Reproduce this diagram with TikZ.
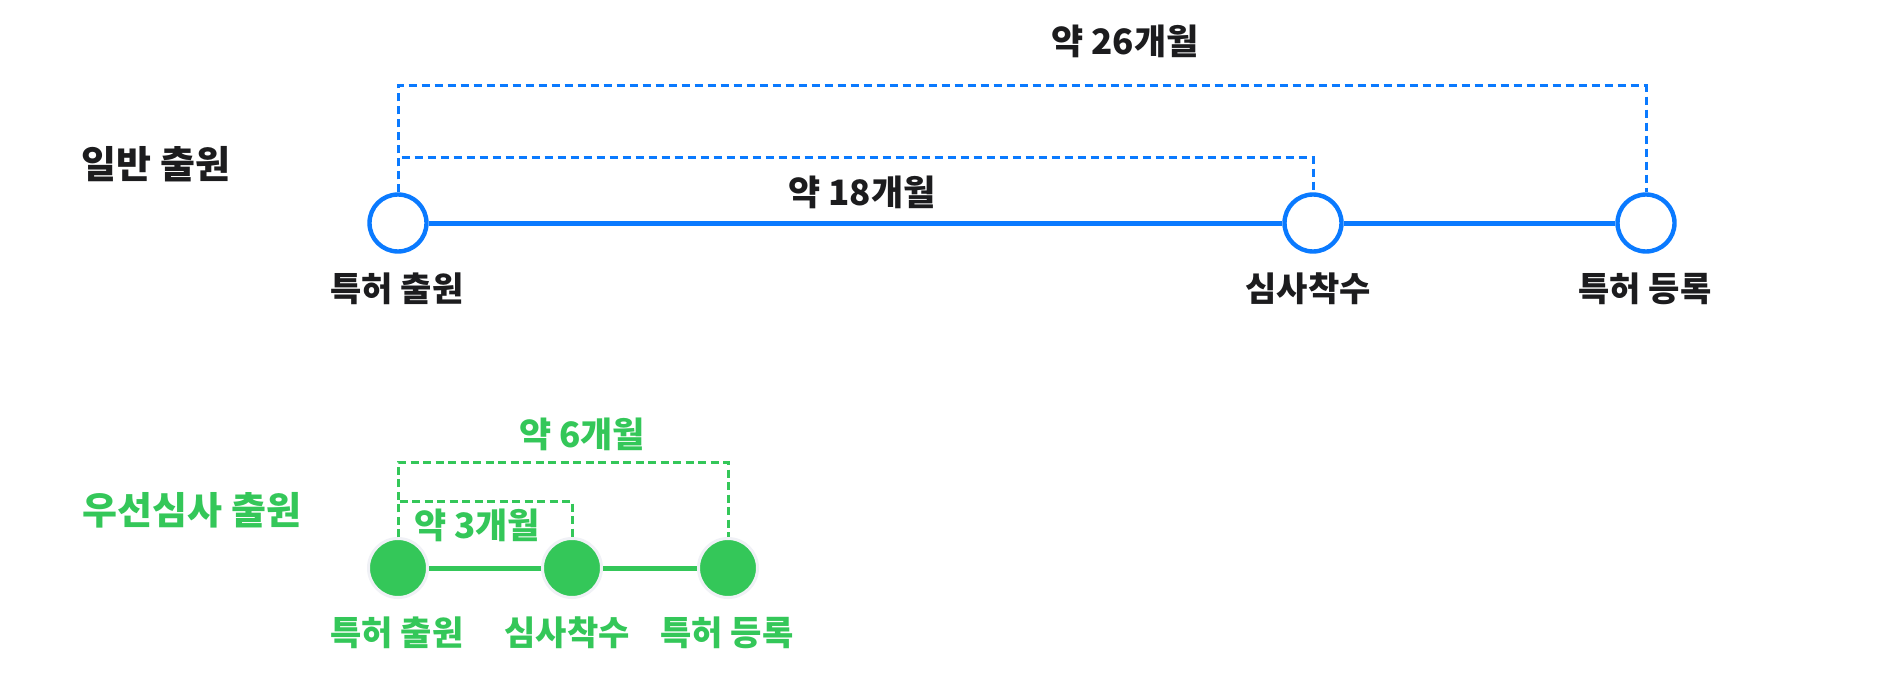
\documentclass[tikz,border=0pt]{standalone}
\usepackage{fontspec}
\setmainfont{Noto Sans CJK KR}
\definecolor{stepblue}{HTML}{0A7AFF}
\definecolor{fastgreen}{HTML}{34C759}
\definecolor{ink}{HTML}{1C1C1E}
\definecolor{halo}{HTML}{F0F1F6}
\tikzset{
  bluestop/.style={circle, draw=stepblue, fill=white, line width=4.4pt, minimum size=57pt, inner sep=0pt},
  greenstop/.style={circle, draw=halo, fill=fastgreen, line width=3pt, minimum size=59pt, inner sep=0pt},
  blueline/.style={draw=stepblue, line width=5pt},
  greenline/.style={draw=fastgreen, line width=5pt},
  bluespan/.style={draw=stepblue, line width=3pt, dash pattern=on 8pt off 5pt},
  greenspan/.style={draw=fastgreen, line width=3pt, dash pattern=on 8pt off 4.5pt},
  rowtitle/.style={font=\bfseries\fontsize{38}{44}\selectfont, inner sep=0pt},
  spanlabel/.style={font=\bfseries\fontsize{35}{41}\selectfont, inner sep=0pt},
  stoplabel/.style={font=\bfseries\fontsize{34}{40}\selectfont, inner sep=0pt}
}
\begin{document}
\begin{tikzpicture}[x=1pt, y=-1pt]
  \useasboundingbox[fill=white] (0,0) rectangle (1880,677);
  % General filing
  \node[rowtitle, text=ink] (gentitle) at (156,164) {일반 출원};
  \node[bluestop] (gfile) at (398,223) {};
  \node[bluestop] (gexam) at (1313,223) {};
  \node[bluestop] (greg) at (1646,223) {};
  \draw[blueline] (gfile) -- (gexam);
  \draw[blueline] (gexam) -- (greg);
  \node[stoplabel, text=ink] (gfilelbl) at (397,289) {특허 출원};
  \node[stoplabel, text=ink] (gexamlbl) at (1308,289) {심사착수};
  \node[stoplabel, text=ink] (greglbl) at (1645,289) {특허 등록};
  % General spans
  \coordinate (gtop26) at (0,86);
  \coordinate (gtop18) at (0,157);
  \draw[bluespan] (gfile.north) -- (gfile.north |- gtop26) -| (greg.north);
  \draw[bluespan] (gfile.north) -- (gfile.north |- gtop18) -| (gexam.north);
  \node[spanlabel, text=ink] (g26) at (1125,41) {약 26개월};
  \node[spanlabel, text=ink] (g18) at (862,192) {약 18개월};
  % Priority examination filing
  \node[rowtitle, text=fastgreen] (pritle) at (192,510) {우선심사 출원};
  \node[greenstop] (pfile) at (398,568) {};
  \node[greenstop] (pexam) at (572,568) {};
  \node[greenstop] (preg) at (728,568) {};
  \draw[greenline] (pfile) -- (pexam);
  \draw[greenline] (pexam) -- (preg);
  \node[stoplabel, text=fastgreen] (pfilelbl) at (397,633) {특허 출원};
  \node[stoplabel, text=fastgreen] (pexamlbl) at (567,633) {심사착수};
  \node[stoplabel, text=fastgreen] (preglbl) at (727,633) {특허 등록};
  % Priority spans
  \coordinate (ptop6) at (0,462);
  \coordinate (ptop3) at (0,501);
  \draw[greenspan] (pfile.north) -- (pfile.north |- ptop6) -| (preg.north);
  \draw[greenspan] (pfile.north) -- (pfile.north |- ptop3) -| (pexam.north);
  \node[spanlabel, text=fastgreen] (p6) at (582,434) {약 6개월};
  \node[spanlabel, text=fastgreen] (p3) at (477,525) {약 3개월};
\end{tikzpicture}
\end{document}
